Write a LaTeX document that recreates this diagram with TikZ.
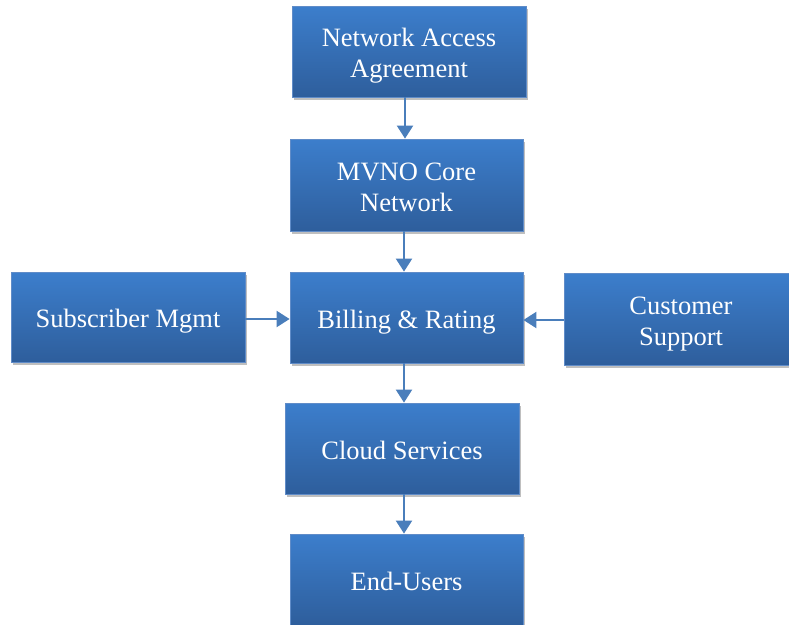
\documentclass[tikz,border=0pt]{standalone}
\usepackage{fontspec}
\setmainfont{Liberation Serif}
\usetikzlibrary{arrows.meta,shadows}
\definecolor{boxtop}{RGB}{60,126,204}
\definecolor{boxbot}{RGB}{46,94,156}
\definecolor{boxline}{RGB}{96,140,200}
\definecolor{arr}{RGB}{74,126,187}
\newcommand\boxtxt[1]{\raisebox{-4.5pt}[\height][\depth]{\begin{tabular}{@{}c@{}}#1\end{tabular}}}
\tikzset{
  flowbox/.style={rectangle, draw=boxline, line width=0.8pt,
    top color=boxtop, bottom color=boxbot, text=white,
    minimum width=234pt, minimum height=91pt, align=center,
    font=\fontsize{26.5}{31}\selectfont, inner sep=2pt,
    drop shadow={shadow xshift=2pt, shadow yshift=-3pt, fill=black, opacity=0.25}},
  flowarrow/.style={draw=arr, line width=2.2pt,
    -{Triangle[width=16pt,length=13pt]}}
}
\begin{document}
\begin{tikzpicture}[x=1pt,y=-1pt]
\useasboundingbox (0,0) rectangle (789,624);
\begin{scope}
\clip (0,0) rectangle (789,624);
\node[flowbox] (nag) at (409,51.5) {\boxtxt{Network Access\\Agreement}};
\node[flowbox, minimum width=233pt, minimum height=92pt] (core) at (406.5,185) {\boxtxt{MVNO Core\\Network}};
\node[flowbox, minimum width=233pt] (bill) at (406.5,317.5) {\boxtxt{Billing \& Rating}};
\node[flowbox, minimum height=90pt] (sub) at (128,317) {\boxtxt{Subscriber Mgmt}};
\node[flowbox, minimum height=92pt] (cust) at (681,319) {\boxtxt{Customer\\Support}};
\node[flowbox] (cloud) at (402,448.5) {\boxtxt{Cloud Services}};
\node[flowbox, minimum width=233pt] (end) at (406.5,579.5) {\boxtxt{End-Users}};
\end{scope}
\draw[flowarrow] (nag.south -| 405,0) -- (core.north -| 405,0);
\draw[flowarrow] (core.south -| 404,0) -- (bill.north -| 404,0);
\draw[flowarrow] (sub.east |- 0,319) -- (bill.west |- 0,319);
\draw[flowarrow] (cust.west |- 0,320) -- (bill.east |- 0,320);
\draw[flowarrow] (bill.south -| 404,0) -- (cloud.north -| 404,0);
\draw[flowarrow] (cloud.south -| 404,0) -- (end.north -| 404,0);
\end{tikzpicture}
\end{document}
